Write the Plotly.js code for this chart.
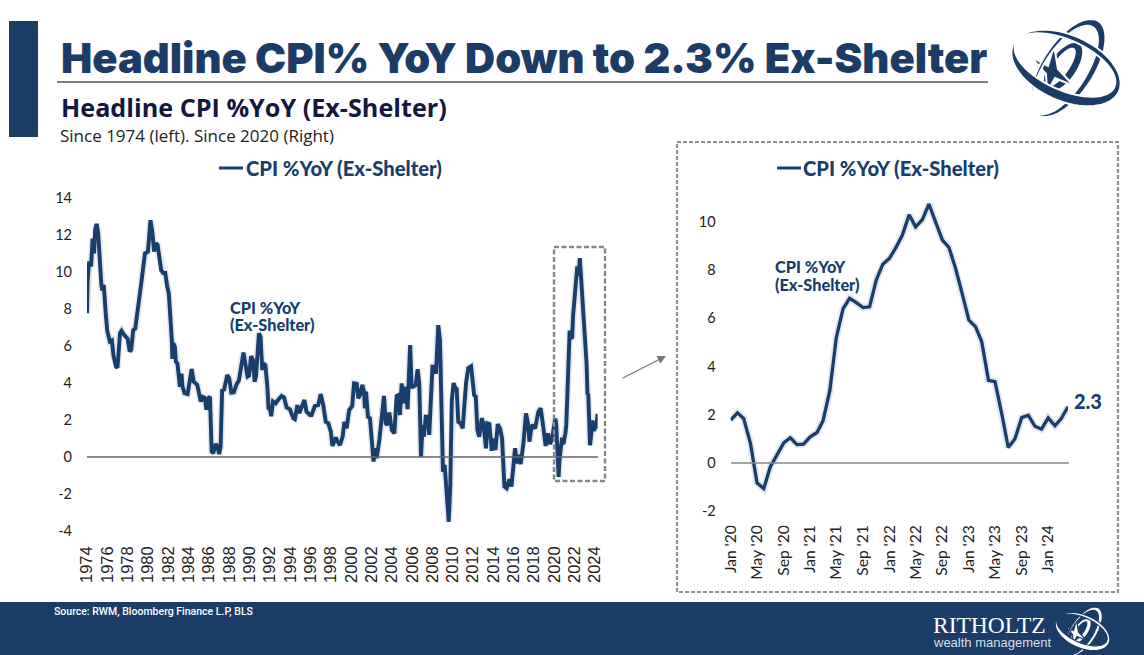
<!DOCTYPE html>
<html><head><meta charset="utf-8">
<script src="https://cdn.plot.ly/plotly-3.0.1.min.js"></script>
<style>html,body{margin:0;padding:0;background:#fff;overflow:hidden}#c{width:1144px;height:655px}</style>
</head><body><div id="c"></div>
<script>
// ---------- data ----------
const longYears=[1974,1974.05,1974.2,1974.4,1974.55,1974.7,1974.8,1974.95,1975.1,1975.2,1975.4,1975.5,1975.65,1975.85,1976,1976.25,1976.45,1976.6,1976.85,1977,1977.25,1977.4,1977.65,1978,1978.2,1978.35,1978.55,1978.75,1979.05,1979.4,1979.7,1980,1980.25,1980.45,1980.6,1980.8,1980.95,1981.1,1981.3,1981.5,1981.7,1981.9,1982.05,1982.35,1982.4,1982.5,1982.65,1982.75,1982.9,1983.15,1983.3,1983.4,1983.6,1983.9,1984.1,1984.3,1984.5,1984.85,1985.2,1985.4,1985.6,1985.75,1986,
1986.1,1986.27,1986.43,1986.66,1986.82,1987,1987.15,1987.3,1987.5,1987.8,1988,1988.2,1988.45,1988.7,1988.95,1989.4,1989.6,1989.8,1989.95,1990.15,1990.33,1990.5,1990.63,1990.92,1991.08,1991.25,1991.35,1991.55,1991.75,1991.87,1992,1992.13,1992.3,1992.56,1992.8,1993.15,1993.38,1993.65,1993.97,1994.3,1994.46,1994.7,1994.9,1995.4,1995.6,1995.95,1996.1,1996.43,1996.75,1997,1997.25,1997.5,1997.75,1998,1998.15,1998.5,1998.65,
1998.9,1999.16,1999.33,1999.55,1999.8,2000.1,2000.28,2000.55,2000.7,2000.87,2001.1,2001.26,2001.35,2001.46,2001.65,2001.85,2002.2,2002.36,2002.5,2002.77,2003,2003.23,2003.4,2003.56,2003.75,2004,2004.25,2004.47,2004.64,2004.8,2004.97,2005.13,2005.36,2005.55,2005.8,2005.95,2006.1,2006.34,2006.54,2006.7,2006.87,2007.03,2007.16,2007.33,2007.56,2007.68,2008,2008.18,2008.34,2008.57,2008.74,2008.9,2009.03,2009.2,2009.4,2009.6,2009.75,2009.9,2010.08,2010.21,2010.38,2010.54,2010.77,2010.97,2011.3,2011.52,
2011.8,2011.96,2012.1,2012.26,2012.42,2012.6,2012.85,2013,2013.27,2013.4,2013.6,2013.83,2014.06,2014.2,2014.42,2014.65,2014.85,2015.08,2015.3,2015.57,2015.77,2016.13,2016.3,2016.45,2016.68,2016.95,2017.2,2017.4,2017.54,2017.77,2018.1,2018.42,2018.65,2018.9,2019.14,2019.37,2019.57,2019.77,2019.9];
const longValues=[7.77,9.4,10.56,10.3,11.8,11,12.3,12.6,12.1,10.8,9.4,9,9.3,7.7,6.8,6.25,6.3,5.5,4.9,4.83,6.7,6.83,6.6,6.4,5.7,5.8,6.85,6.95,8.1,9.65,11,11.1,12.8,12.1,11.1,11.55,11.45,10.9,10.1,9.95,9.95,9.2,8.85,6.3,5.3,6.15,5.95,5.15,5.05,3.8,4.5,3.8,3.45,3.4,4,4.75,4.07,3.9,3,3.25,3.2,2.55,3.2,
3.26,.3,.2,.7,.6,.16,.56,3.6,3.65,4.43,4.25,3.48,3.5,3.9,4.15,5.65,5.05,4.35,4.4,5.45,5.25,4.07,4.35,6.68,6.5,4.7,5.05,4.97,3.8,2.58,2.63,2.2,3,2.9,3.08,3.3,3.23,2.68,2.58,2.1,2.04,2.8,2.38,3.08,2.45,2.27,2.27,2.76,2.8,3.4,2.8,1.9,1.82,1.37,.6,1.06,.83,
.65,1.1,1.9,1.55,2.54,2.76,3.98,3.95,3.17,3.35,3.9,3.53,2.63,3.53,2.18,2.09,-.25,.47,-.07,.92,1.91,3.3,1.82,1.73,2.4,1.46,1.28,3.3,3.35,2.27,3.98,2.9,3.8,2.58,6.05,3.8,3.8,3.89,4.74,3.98,.02,1.73,1.1,2.18,2.18,1.2,4.88,4.88,4.5,7.13,6.3,2.9,-.8,-.43,-1.96,-3.5,-1.6,3.08,4,3.78,3.69,1.9,1.82,1.55,3.98,4.8,
4.9,4.14,3.35,3.26,1.46,1.1,2.1,1.82,.47,1.82,1.78,.34,1,.38,1.78,1.55,1,-1.6,-1.69,-1.2,-1.6,.47,-.34,.11,-.38,.74,2.36,1.82,.83,1.73,1.55,2.45,2.63,1.64,.6,1.28,.7,1,1.46];
const insetMonths=[];
for(let y=2020;y<=2024;y++)for(let m=1;m<=12;m++){if(y===2024&&m>4)break;insetMonths.push(y+'-'+String(m).padStart(2,'0')+'-01');}
const insetValues=[1.77,2.08,1.84,.8,-.83,-1.07,-.17,.32,.83,1.04,.76,.78,1.08,1.26,1.75,3,5.2,6.4,6.83,6.65,6.45,6.48,7.6,8.25,8.5,8.97,9.46,10.3,9.8,10.1,10.75,10,9.25,8.95,8.07,7.03,5.93,5.65,5.03,3.43,3.37,2.05,.64,1,1.88,1.98,1.52,1.4,1.87,1.54,1.84,2.33];
const leftTickVals=[];for(let y=1974;y<=2024;y+=2)leftTickVals.push(y);
const leftTickText=leftTickVals.map(String);
const leftYVals=[-4,-2,0,2,4,6,8,10,12,14];
const leftYText=['-4','-2','0','2','4','6','8','10','12','14'];
const rightYVals=[-2,0,2,4,6,8,10];
const rightYText=['-2','0','2','4','6','8','10'];
const rightTickText=["Jan '20","May '20","Sep '20","Jan '21","May '21","Sep '21","Jan '22","May '22","Sep '22","Jan '23","May '23","Sep '23","Jan '24"];
const rightTickVals=["2020-01-01","2020-05-01","2020-09-01","2021-01-01","2021-05-01","2021-09-01","2022-01-01","2022-05-01","2022-09-01","2023-01-01","2023-05-01","2023-09-01","2024-01-01"];
const seriesName="CPI %YoY (Ex-Shelter)";
// ---------- helpers ----------
const W=1144,H=655,NAVY='#173e6c',BAND='#1a3c66';
const px=x=>x/W, py=y=>1-y/H;
const allYears=longYears.concat(insetMonths.map((d,i)=>2020+i/12));
const allValues=longValues.concat(insetValues);
function rect(x0,y0,x1,y1,o){return Object.assign({type:'rect',xref:'paper',yref:'paper',x0:px(x0),x1:px(x1),y0:py(y0),y1:py(y1),line:{width:0}},o);}
function seg(x0,y0,x1,y1,c,w,d){return {type:'line',xref:'paper',yref:'paper',x0:px(x0),x1:px(x1),y0:py(y0),y1:py(y1),line:{color:c,width:w,dash:d||'solid'}};}
function txt(t,x,y,size,color,fam,weight,anchor){return {text:t,xref:'paper',yref:'paper',x:px(x),y:py(y),xanchor:anchor||'left',yanchor:'middle',showarrow:false,borderpad:0,align:'left',font:{size:size,color:color,family:fam,weight:weight||400}};}
function ell(cx,cy,a,b,rot,x0,y0){const r=rot*Math.PI/180;let s='';for(let i=0;i<=64;i++){const t=i/64*2*Math.PI,u=a*Math.cos(t),v=b*Math.sin(t);const X=cx+x0+u*Math.cos(r)-v*Math.sin(r),Y=cy+y0+u*Math.sin(r)+v*Math.cos(r);s+=(i?'L':'M')+px(X).toFixed(5)+','+py(Y).toFixed(5);}return s+'Z';}
function logo(cx,cy,k,col,bg){
 const shp=(d,ln)=>({type:'path',xref:'paper',yref:'paper',path:d,fillcolor:col,line:ln?{color:bg,width:1.6*k+.4}:{width:0}});
 const poly=(pts,ox,oy)=>pts.map((p,i)=>(i?'L':'M')+px(cx+(ox+p[0])*k).toFixed(5)+','+py(cy+(oy+p[1])*k).toFixed(5)).join('')+'Z';
 const out=[];
 out.push(shp(ell(cx,cy,28*k,13*k,-55,-4*k,-2*k)+ell(cx,cy,23*k,8*k,-55,-6*k,-2*k)));
 out.push(shp(poly([[-22,-15],[-4,-5],[2,-26],[6,-2],[22,15],[3,7],[-5,22],[-6,3]],-15,2),true));
 out.push(shp(ell(cx,cy,56*k,26*k,-57,1*k,-1*k)+ell(cx,cy,51*k,21*k,-57,-2*k,1*k),true));
 out.push(shp(ell(cx,cy,58*k,33*k,24,-1*k,-1*k)+ell(cx,cy,54*k,25*k,24,-2*k,-4*k),true));
 return out;
}
// ---------- traces ----------
const shadow={color:'rgba(90,105,130,0.17)',width:7};
const traces=[
 {x:allYears,y:allValues,xaxis:'x',yaxis:'y',mode:'lines',line:shadow,hoverinfo:'skip',showlegend:false,cliponaxis:false},
 {x:allYears,y:allValues,xaxis:'x',yaxis:'y',mode:'lines',name:seriesName,line:{color:NAVY,width:3.9},showlegend:false,cliponaxis:false},
 {x:insetMonths,y:insetValues,xaxis:'x2',yaxis:'y2',mode:'lines',line:shadow,hoverinfo:'skip',showlegend:false,cliponaxis:false},
 {x:insetMonths,y:insetValues,xaxis:'x2',yaxis:'y2',mode:'lines',name:seriesName,line:{color:NAVY,width:3.3},showlegend:false,cliponaxis:false}
];
const tickFont={family:'Lato, Liberation Sans, sans-serif',size:14.5,color:'#222'};
const xTickFont={family:'Liberation Sans, sans-serif',size:16.5,color:'#222'};
const layout={
 width:W,height:H,margin:{l:0,r:0,t:0,b:0},paper_bgcolor:'#fff',plot_bgcolor:'rgba(0,0,0,0)',showlegend:false,
 xaxis:{domain:[px(87),px(597.6)],range:[1974,2024.25],tickmode:'array',tickvals:leftTickVals,ticktext:leftTickText,tickangle:-90,tickfont:xTickFont,showgrid:false,zeroline:false,showline:false,ticks:'',ticklabelstandoff:11,anchor:'y'},
 yaxis:{domain:[py(531),py(198)],range:[-4,14],tickmode:'array',tickvals:leftYVals,ticktext:leftYText,tickfont:tickFont,showgrid:false,zeroline:false,showline:false,ticks:'',ticklabelstandoff:14,anchor:'x'},
 xaxis2:{type:'date',domain:[px(730.7),px(1068)],range:['2020-01-01','2024-04-01'],tickmode:'array',tickvals:rightTickVals,ticktext:rightTickText,tickangle:-90,tickfont:{family:'Lato, Liberation Sans, sans-serif',size:15.6,color:'#222'},showgrid:false,zeroline:false,showline:false,ticks:'',ticklabelstandoff:10,anchor:'y2'},
 yaxis2:{domain:[py(511),py(198)],range:[-2,11],tickmode:'array',tickvals:rightYVals,ticktext:rightYText,tickfont:tickFont,showgrid:false,zeroline:false,showline:false,ticks:'',ticklabelstandoff:14,anchor:'x2'},
 shapes:[
  rect(9,21,38,137,{fillcolor:BAND}),
  rect(0,602,1144,655,{fillcolor:BAND}),
  seg(57,82,988,82,'#555',1.5),
  seg(87,457,598,457,'#666',1.3),
  seg(731,463,1069,463,'#888',1.5),
  rect(554,247,605,481,{fillcolor:'rgba(0,0,0,0)',line:{color:'#868686',width:2.4,dash:'5px,2.5px'}}),
  rect(677,142,1118,592,{fillcolor:'rgba(0,0,0,0)',line:{color:'#909090',width:2.2,dash:'4px,2px'}}),
  seg(219,168,243,168,NAVY,3),
  seg(777,168,801,168,NAVY,3)
 ].concat(logo(1067,69,1,BAND,'#fff')).concat(logo(1083,632,0.5,'#fff',BAND)),
 annotations:[
  txt('Headline CPI% YoY Down to 2.3% Ex-Shelter',60,58,41.7,BAND,'Inter, Roboto, sans-serif',900),
  txt('Headline CPI %YoY (Ex-Shelter)',60,107,25.2,'#14183f','Open Sans, sans-serif',700),
  txt('Since 1974 (left). Since 2020 (Right)',59,135,17,'#222','Open Sans, sans-serif',400),
  txt(seriesName,245,168,20.2,NAVY,'Lato, sans-serif',900),
  txt(seriesName,802,168,20.2,NAVY,'Lato, sans-serif',900),
  txt('CPI %YoY',229,307,16.3,NAVY,'Lato, sans-serif',900),
  txt('(Ex-Shelter)',229,324,16.3,NAVY,'Lato, sans-serif',900),
  txt('CPI %YoY',774,266,16.3,NAVY,'Lato, sans-serif',900),
  txt('(Ex-Shelter)',774,284,16.3,NAVY,'Lato, sans-serif',900),
  txt('2.3',1073,401,20,NAVY,'Lato, sans-serif',900),
  txt('Source: RWM, Bloomberg Finance L.P, BLS',53,611,10.5,'#fff','Roboto, sans-serif',500),
  txt('RITHOLTZ',932,625,23.5,'#fff','Liberation Serif, serif',400),
  txt('wealth management',932,642,13,'#d8dfe8','Liberation Sans, sans-serif',400),
  {xref:'paper',yref:'paper',x:px(666),y:py(356),axref:'pixel',ayref:'pixel',ax:-45,ay:23,text:'',showarrow:true,arrowcolor:'#777',arrowwidth:1.2,arrowhead:2,arrowsize:1.4}
 ]
};
Plotly.newPlot('c',traces,layout,{staticPlot:true,displayModeBar:false});
</script></body></html>
